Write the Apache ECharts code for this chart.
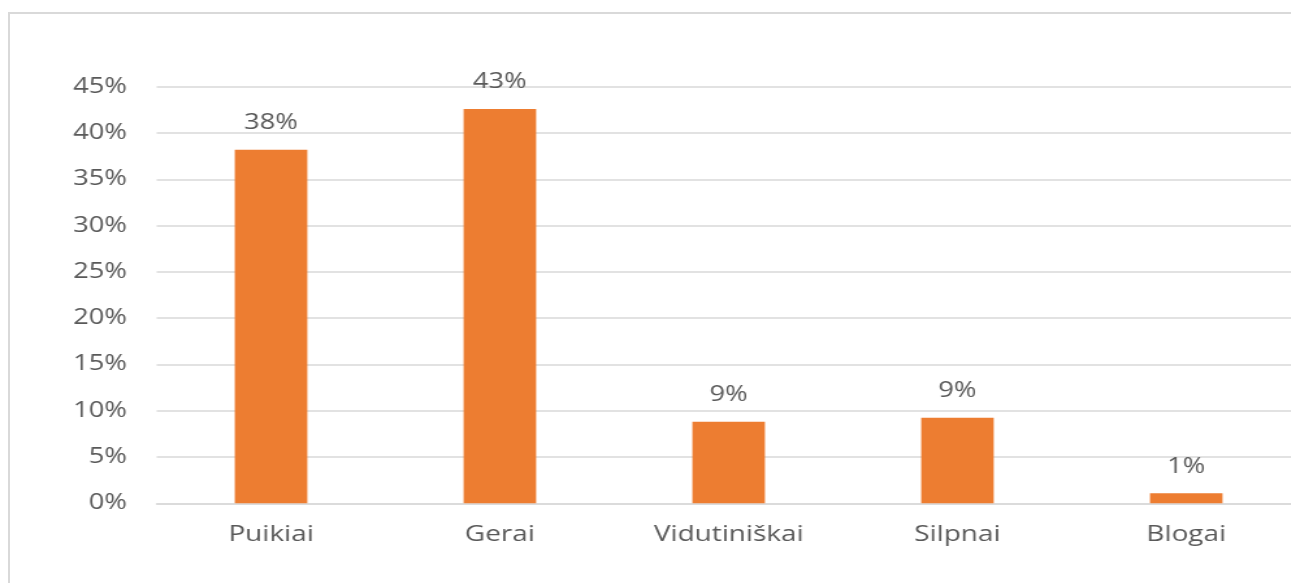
<!DOCTYPE html>
<html>
<head>
<meta charset="utf-8">
<script src="https://cdn.jsdelivr.net/npm/echarts@6/dist/echarts.min.js"></script>
<style>
  html, body { margin: 0; padding: 0; width: 1291px; height: 583px; overflow: hidden; background: #ffffff; }
  #frame { position: absolute; left: 8px; top: 12px; width: 1400px; height: 800px; border: 2px solid #d9d9d9; box-sizing: border-box; }
  #chart { position: absolute; left: 0; top: 0; width: 1020px; height: 583px; transform: scaleX(1.3); transform-origin: 0 0; }
</style>
</head>
<body>
<div id="frame"></div>
<div id="chart"></div>
<script>
// Data (values in percent)
const categories = ['Puikiai', 'Gerai', 'Vidutiniškai', 'Silpnai', 'Blogai'];
const values = [38.2, 42.6, 8.8, 9.25, 1.08];
const yTicks = [0, 5, 10, 15, 20, 25, 30, 35, 40, 45];

const textColor = '#595959';
const font = 'Open Sans';
const chart = echarts.init(document.getElementById('chart'), null, { renderer: 'canvas' });
chart.setOption({
  backgroundColor: 'transparent',
  animation: false,
  grid: { left: 120.5, width: 880, top: 86.7, height: 416.6, containLabel: false },
  xAxis: {
    type: 'category',
    data: categories,
    axisTick: { show: false },
    axisLine: { show: true, lineStyle: { color: '#d9d9d9', width: 1.5 } },
    axisLabel: { color: textColor, fontFamily: font, fontSize: 21.5, margin: 21, lineHeight: 22 }
  },
  yAxis: {
    type: 'value',
    min: yTicks[0],
    max: yTicks[yTicks.length - 1],
    interval: yTicks[1] - yTicks[0],
    axisLine: { show: false },
    axisTick: { show: false },
    splitLine: { lineStyle: { color: '#d9d9d9', width: 1.5 } },
    axisLabel: { color: textColor, fontFamily: font, fontSize: 21, margin: 23, formatter: v => v + '%' }
  },
  series: [{
    type: 'bar',
    data: values,
    barWidth: 55.8,
    itemStyle: { color: '#ED7D31' },
    label: {
      show: true,
      position: 'top',
      distance: 16,
      color: textColor,
      fontFamily: font,
      fontSize: 21,
      lineHeight: 21,
      formatter: p => Math.round(p.value) + '%'
    }
  }]
});
</script>
</body>
</html>
